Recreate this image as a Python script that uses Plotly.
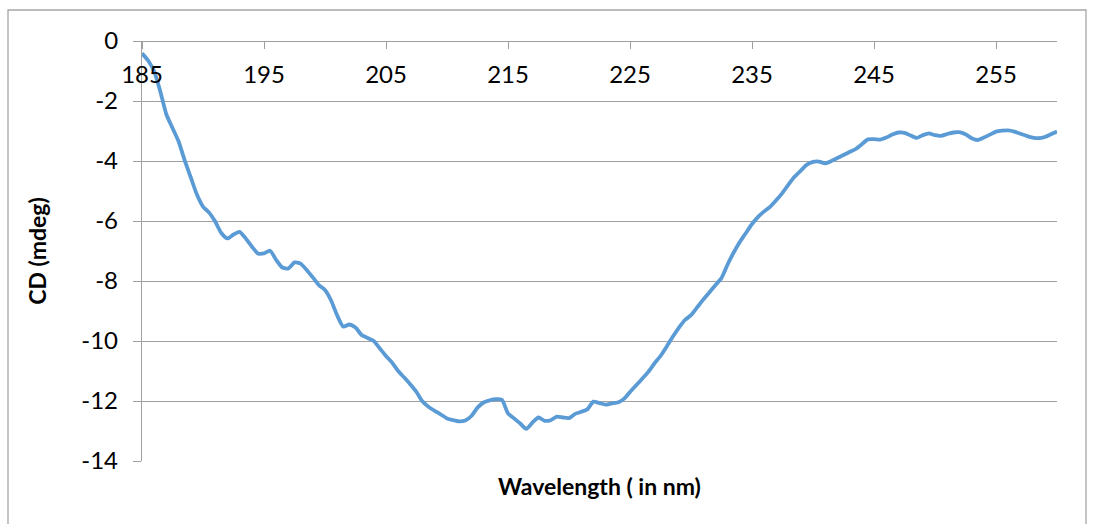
import plotly.graph_objects as go

# Wavelength (nm) at 0.5 nm steps and CD (mdeg) values
wavelength = [185 + 0.5 * i for i in range(151)]
cd_mdeg = [
    -0.41, -0.65, -1.02, -1.68, -2.45, -2.90, -3.35, -3.98, -4.55, -5.12,
    -5.52, -5.72, -6.02, -6.40, -6.58, -6.45, -6.36, -6.58, -6.85, -7.08,
    -7.08, -6.99, -7.30, -7.55, -7.58, -7.38, -7.42, -7.63, -7.88, -8.14,
    -8.30, -8.65, -9.15, -9.52, -9.45, -9.55, -9.80, -9.90, -10.00, -10.25,
    -10.50, -10.72, -11.00, -11.22, -11.45, -11.70, -12.02, -12.20, -12.33, -12.45,
    -12.58, -12.64, -12.68, -12.65, -12.50, -12.22, -12.05, -11.98, -11.94, -11.96,
    -12.41, -12.58, -12.75, -12.93, -12.72, -12.55, -12.66, -12.64, -12.52, -12.55,
    -12.57, -12.43, -12.36, -12.28, -12.02, -12.07, -12.12, -12.08, -12.05, -11.93,
    -11.70, -11.48, -11.26, -11.03, -10.75, -10.50, -10.19, -9.86, -9.56, -9.30,
    -9.14, -8.88, -8.62, -8.38, -8.14, -7.90, -7.45, -7.05, -6.70, -6.40,
    -6.10, -5.86, -5.68, -5.52, -5.30, -5.06, -4.78, -4.52, -4.32, -4.12,
    -4.03, -4.02, -4.08, -4.00, -3.90, -3.80, -3.70, -3.60, -3.44, -3.28,
    -3.27, -3.29, -3.22, -3.12, -3.05, -3.06, -3.15, -3.23, -3.14, -3.08,
    -3.14, -3.16, -3.10, -3.05, -3.04, -3.11, -3.24, -3.30, -3.22, -3.12,
    -3.02, -2.99, -2.98, -3.02, -3.09, -3.16, -3.22, -3.24, -3.20, -3.11,
    -3.02,
]
x_ticks = [185, 195, 205, 215, 225, 235, 245, 255]
y_ticks = [0, -2, -4, -6, -8, -10, -12, -14]
y_ticktext = ["0", "-2", "-4", "-6", "-8", "-10", "-12", "-14"]

x_title = "Wavelength ( in nm)"
y_title = "CD (mdeg)"

FONT = "Lato, 'Open Sans', sans-serif"
GRID = "#a0a0a0"

fig = go.Figure()
fig.add_trace(go.Scatter(
    x=wavelength, y=cd_mdeg, mode="lines",
    line=dict(color="#5b9bd5", width=3.8, shape="spline", smoothing=0.6),
    showlegend=False, hoverinfo="x+y",
))

fig.update_layout(
    width=1094, height=524,
    margin=dict(l=142, r=37, t=41, b=63),
    paper_bgcolor="white", plot_bgcolor="white",
    font=dict(family=FONT, size=24, color="black"),
    xaxis=dict(
        range=[185, 260], anchor="free", position=1, side="bottom",
        tickmode="array", tickvals=x_ticks, ticktext=[str(v) for v in x_ticks],
        ticks="outside", ticklen=7, tickcolor=GRID, tickwidth=1.3,
        showline=True, linecolor=GRID, linewidth=1.3,
        showgrid=False, zeroline=False,
        ticklabelstandoff=5,
    ),
    yaxis=dict(
        range=[-14, 0], tickmode="array", tickvals=y_ticks, ticktext=y_ticktext,
        ticks="outside", ticklen=8, tickcolor=GRID, tickwidth=1.3,
        showline=True, linecolor=GRID, linewidth=1.3,
        showgrid=True, gridcolor=GRID, gridwidth=1.3,
        zeroline=False, ticklabelstandoff=10,
        title=dict(text="<b>" + y_title + "</b>", font=dict(size=23), standoff=28),
    ),
    annotations=[dict(
        text="<b>" + x_title + "</b>", xref="paper", yref="paper",
        x=0.5, y=-0.022, xanchor="center", yanchor="top", showarrow=False,
        font=dict(size=23, family=FONT),
    )],
    shapes=[dict(
        type="rect", xref="paper", yref="paper",
        x0=(8 - 142) / 915, x1=(1086 - 142) / 915,
        y0=(461 - 540) / 420, y1=(461 - 10) / 420,
        line=dict(color="#a6a6a6", width=1.3), fillcolor="rgba(0,0,0,0)", layer="below",
    )],
)

fig.write_html("out.html")
